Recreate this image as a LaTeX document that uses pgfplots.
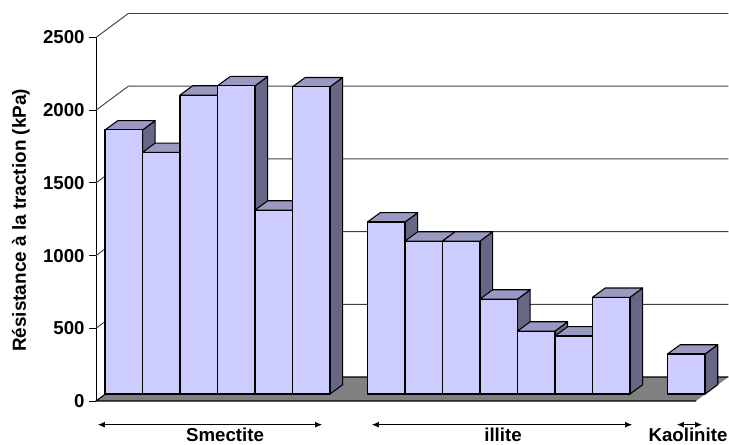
\documentclass[border=0pt]{standalone}
\usepackage{pgfplots}
\pgfplotsset{compat=1.18}
\usepackage{fontspec}
\setmainfont{Liberation Sans}
\usetikzlibrary{arrows.meta}
\definecolor{barfront}{HTML}{CCCCFF}
\definecolor{bartop}{HTML}{9999C2}
\definecolor{barside}{HTML}{666685}
\definecolor{floorc}{HTML}{808080}
\definecolor{gridc}{HTML}{404040}
% one 3-D column: slot position, height in kPa
\newcommand{\tbar}[2]{%
  \pgfmathsetmacro{\xa}{#1+1}\pgfmathsetmacro{\xb}{#1+1.339}\pgfmathsetmacro{\xc}{#1+0.339}%
  \pgfmathsetmacro{\ya}{48+#2}\pgfmathsetmacro{\yb}{112+#2}%
  \addplot[fill=barside,draw=black,line width=0.8pt,line join=round] coordinates {(\xa,48) (\xb,112) (\xb,\yb) (\xa,\ya)} --cycle;
  \addplot[fill=bartop,draw=black,line width=0.8pt,line join=round] coordinates {(#1,\ya) (\xa,\ya) (\xb,\yb) (\xc,\yb)} --cycle;
  \addplot[fill=barfront,draw=black,line width=0.8pt,line join=round] coordinates {(#1,48) (\xa,48) (\xa,\ya) (#1,\ya)} --cycle;
}
\begin{document}
\begin{tikzpicture}[x=0.75pt,y=0.75pt]
\path[use as bounding box] (0,0) rectangle (729,445);
\begin{axis}[
  at={(72pt,33pt)},anchor=south west,
  x=28.125pt,y=0.10905pt,
  xmin=-0.24,xmax=15.76,ymin=0,ymax=2500,
  clip=false,
  axis x line=none,
  axis y line=left,
  axis line style={-,black,line width=0.7pt},
  ytick={0,500,1000,1500,2000,2500},
  /pgf/number format/1000 sep={},
  tick align=outside,
  major tick length=5pt,
  tick style={black,line width=0.7pt},
  yticklabel style={font=\bfseries\fontsize{14}{16}\selectfont,/pgf/number format/assume math mode=true},
  ylabel={\bfseries\fontsize{14.2}{16}\selectfont Résistance à la traction (kPa)},
  ylabel style={at={(axis description cs:-0.125,0.497)},anchor=center},
]
% wall grid lines
\addplot[gridc,line width=0.7pt] coordinates {(-0.24,500) (0.621,665) (16.621,665)};
\addplot[gridc,line width=0.7pt] coordinates {(-0.24,1000) (0.621,1165) (16.621,1165)};
\addplot[gridc,line width=0.7pt] coordinates {(-0.24,1500) (0.621,1665) (16.621,1665)};
\addplot[gridc,line width=0.7pt] coordinates {(-0.24,2000) (0.621,2165) (16.621,2165)};
\addplot[gridc,line width=0.7pt] coordinates {(-0.24,2500) (0.621,2665) (16.621,2665)};
% floor
\addplot[fill=floorc,draw=none] coordinates {(-0.24,0) (15.76,0) (16.621,165) (0.621,165)} --cycle;
\addplot[black,line width=0.8pt] coordinates {(15.76,0) (-0.24,0) (0.621,165) (16.621,165)};
% Smectite
\tbar{0}{1816}
\tbar{1}{1662}
\tbar{2}{2056}
\tbar{3}{2120}
\tbar{4}{1265}
\tbar{5}{2113}
% illite
\tbar{7}{1183}
\tbar{8}{1052}
\tbar{9}{1052}
\tbar{10}{653}
\tbar{11}{433}
\tbar{12}{399}
\tbar{13}{665}
% Kaolinite
\tbar{15}{275}
\end{axis}
\draw[{Latex[length=5.2pt,width=4.4pt]}-{Latex[length=5.2pt,width=4.4pt]},line width=0.5pt] (98,20.3) -- (322,20.3);
\draw[{Latex[length=5.2pt,width=4.4pt]}-{Latex[length=5.2pt,width=4.4pt]},line width=0.5pt] (372,20.3) -- (632,20.3);
\draw[{Latex[length=5.2pt,width=4.4pt]}-{Latex[length=5.2pt,width=4.4pt]},line width=0.5pt] (677,20.3) -- (702,20.3);
\node[font=\bfseries\fontsize{14}{16}\selectfont] at (225,10) {Smectite};
\node[font=\bfseries\fontsize{14}{16}\selectfont] at (503,10) {illite};
\node[font=\bfseries\fontsize{14}{16}\selectfont] at (688,10) {Kaolinite};
\end{tikzpicture}
\end{document}
